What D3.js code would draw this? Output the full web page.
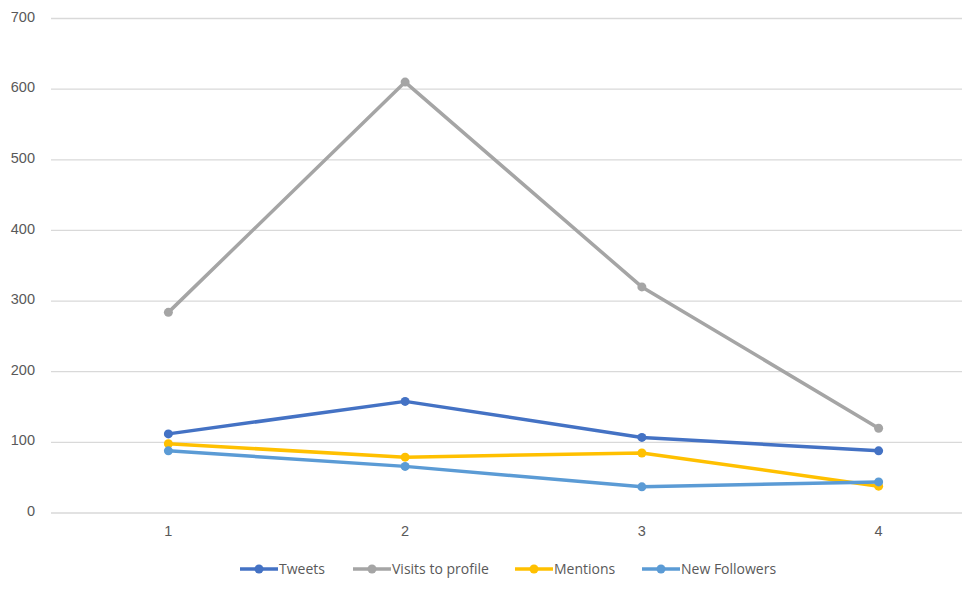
<!DOCTYPE html>
<html>
<head>
	<title>Twitter activity</title>
	<script src="https://d3js.org/d3.v7.min.js"></script>
	<style type="text/css">
		*
		{
			margin:0;
			padding:0;
		}
		body
		{
			background:#fff;
			font-family: "Open Sans", "Noto Sans", sans-serif;
		}
		.tick text
		{
			fill:#595959;
			font-size:14.5px;
		}
		.legend text
		{
			fill:#595959;
			font-size:14px;
		}
	</style>
</head>
<body>
	<div id="chart"></div>
	<script>
		const categories = ["1", "2", "3", "4"];
		const tweets = [112, 158, 107, 88];
		const visits = [284, 610, 320, 120];
		const mentions = [98, 79, 85, 38];
		const newFollowers = [88, 66, 37, 44];
		const yTicks = [0, 100, 200, 300, 400, 500, 600, 700];

		const series = [
			{name: "Tweets", values: tweets, color: "#4472C4"},
			{name: "Visits to profile", values: visits, color: "#A5A5A5"},
			{name: "Mentions", values: mentions, color: "#FFC000"},
			{name: "New Followers", values: newFollowers, color: "#5B9BD5"}
		];

		const width = 962;
		const height = 594;

		const svg = d3.select("#chart").append("svg")
			.attr("width", width)
			.attr("height", height);

		const xScale = d3.scaleBand().domain(categories).range([50, 997]);
		const yScale = d3.scaleLinear().domain([0, 700]).range([513, 18.5]);

		// gridlines
		svg.append("g")
			.selectAll("line")
			.data(yTicks)
			.enter()
			.append("line")
			.attr("x1", 51)
			.attr("x2", 997)
			.attr("y1", d => yScale(d))
			.attr("y2", d => yScale(d))
			.attr("stroke", "#D9D9D9")
			.attr("stroke-width", 1.3);

		const yAxis = d3.axisLeft(yScale).tickValues(yTicks).tickSize(0).tickPadding(0);
		svg.append("g")
			.attr("transform", "translate(35, -2)")
			.call(yAxis)
			.call(g => g.select(".domain").remove());

		const xAxis = d3.axisBottom(xScale).tickSize(0).tickPadding(13);
		svg.append("g")
			.attr("transform", "translate(0, 513)")
			.call(xAxis)
			.call(g => g.select(".domain").remove());

		const line = d3.line()
			.x((d, i) => xScale(categories[i]) + xScale.bandwidth() / 2)
			.y(d => yScale(d));

		series.forEach(s => {
			svg.append("path")
				.datum(s.values)
				.attr("d", line)
				.attr("fill", "none")
				.attr("stroke", s.color)
				.attr("stroke-width", 3.5)
				.attr("stroke-linejoin", "round")
				.attr("stroke-linecap", "round");

			svg.append("g")
				.selectAll("circle")
				.data(s.values)
				.enter()
				.append("circle")
				.attr("cx", (d, i) => xScale(categories[i]) + xScale.bandwidth() / 2)
				.attr("cy", d => yScale(d))
				.attr("r", 4.5)
				.attr("fill", s.color);
		});

		// legend
		const legendX = [240, 353, 515, 642];
		const legend = svg.append("g").attr("class", "legend");
		series.forEach((s, i) => {
			const g = legend.append("g").attr("transform", "translate(" + legendX[i] + ", 569)");
			g.append("line")
				.attr("x1", 0).attr("x2", 38)
				.attr("stroke", s.color)
				.attr("stroke-width", 3.5);
			g.append("circle")
				.attr("cx", 19).attr("r", 4.5)
				.attr("fill", s.color);
			g.append("text")
				.attr("x", 39)
				.attr("dy", "0.35em")
				.text(s.name);
		});
	</script>
</body>
</html>
